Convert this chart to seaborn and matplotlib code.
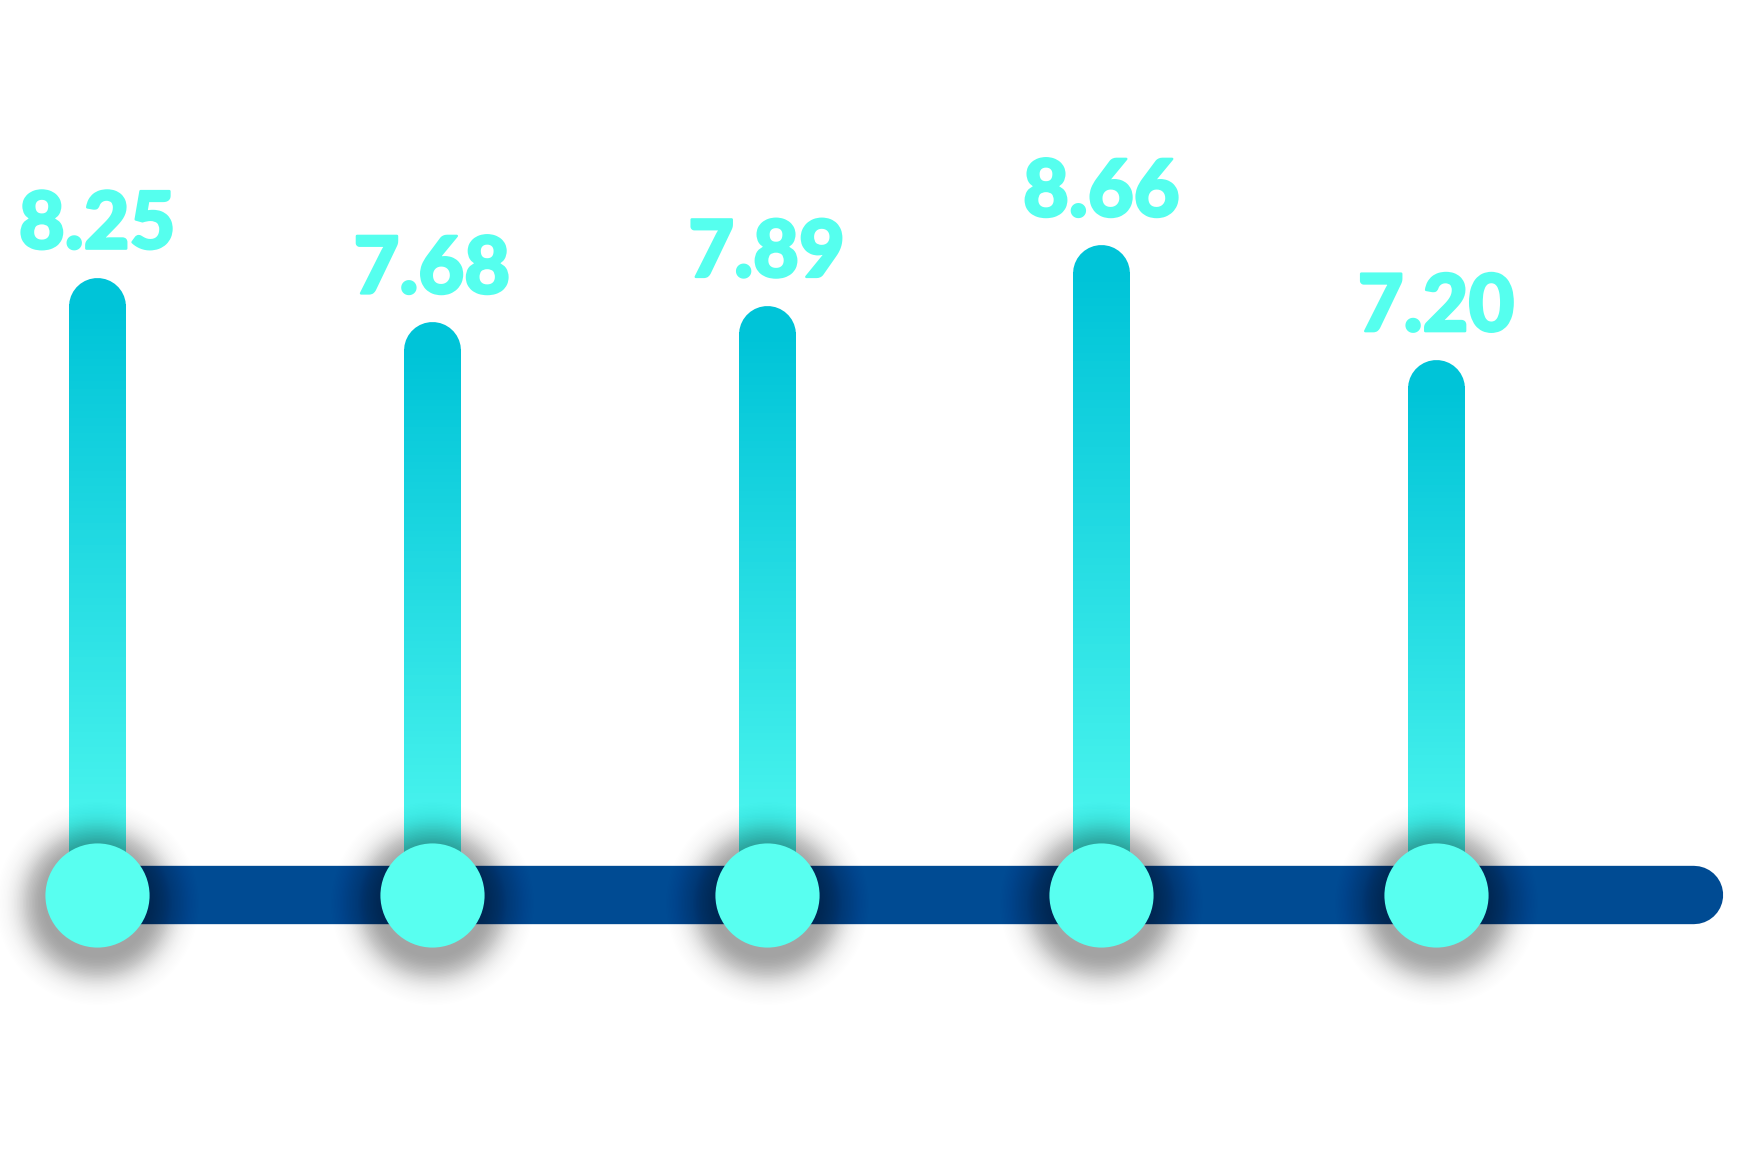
import numpy as np
import pandas as pd
import matplotlib
matplotlib.use("Agg")
import matplotlib.pyplot as plt
import matplotlib.transforms as mtransforms
import matplotlib.patheffects as pe
from matplotlib.collections import LineCollection
from matplotlib.colors import LinearSegmentedColormap
import seaborn as sns

# values of the five stems
positions = [0, 1, 2, 3, 4]
values = [8.25, 7.68, 7.89, 8.66, 7.20]
labels = ["8.25", "7.68", "7.89", "8.66", "7.20"]

BASE = 0.75          # level of the dark track
TRACK_END = 4.77     # where the track stops on the right

sns.set_theme(style="white")
plt.rcParams["font.family"] = ["Lato", "DejaVu Sans"]

DPI = 100
fig = plt.figure(figsize=(17.48, 11.54), dpi=DPI)
ax = fig.add_axes([0, 0, 1, 1])
ax.set_xlim(-0.29, 4.932)
ax.set_ylim(-2.545, 12.137)
ax.axis("off")

df = pd.DataFrame({"pos": positions, "value": values, "label": labels})

# dark blue track
ax.plot([0, TRACK_END], [BASE, BASE], color="#004B93", lw=42,
        solid_capstyle="round", zorder=1)

# stems: round top cap in the top colour, gradient body
stem_cmap = LinearSegmentedColormap.from_list("stem", ["#52FAF0", "#00C4D8"])
for x, v in zip(df["pos"], df["value"]):
    ax.plot([x, x], [BASE + 1, v], color="#00C4D8", lw=41,
            solid_capstyle="round", zorder=2)
    ys = np.linspace(BASE, v, 80)
    segs = [[(x, ys[i]), (x, ys[i + 1] + 0.02)] for i in range(len(ys) - 1)]
    lc = LineCollection(segs, colors=stem_cmap(np.linspace(0, 1, len(segs))),
                        linewidths=41, capstyle="butt", antialiaseds=False,
                        zorder=3)
    ax.add_collection(lc)

# soft shadow under the knobs (stacked rings giving a gaussian falloff)
shadow_tr = mtransforms.offset_copy(ax.transData, fig=fig, x=0, y=-8, units="dots")
base_r = 37.5  # knob radius in points
d_px = np.arange(66, -1, -1.5)
target = 0.34 * np.exp(-(d_px / 27.0) ** 2)
prev = 0.0
for d, t in zip(d_px, target):
    a = 1 - (1 - t) / (1 - prev)
    prev = t
    r = base_r + d * 0.72
    ax.scatter(df["pos"], [BASE] * len(df), s=(2 * r) ** 2, color="black",
               alpha=a, linewidths=0, transform=shadow_tr, zorder=4)

# knobs
sns.scatterplot(data=df, x="pos", y=[BASE] * len(df), s=(2 * base_r) ** 2,
                color="#58FFF0", linewidth=0, ax=ax, zorder=5, legend=False)

# value labels above stems
for x, v, t in zip(df["pos"], df["value"], df["label"]):
    ax.annotate(t, (x, v), xytext=(0, 41), textcoords="offset points",
                ha="center", va="baseline", fontsize=57, fontweight="black",
                color="#55FFEE", zorder=6,
                path_effects=[pe.withStroke(linewidth=1.8, foreground="#55FFEE")])

fig.savefig("out.png", dpi=DPI, facecolor="white")
